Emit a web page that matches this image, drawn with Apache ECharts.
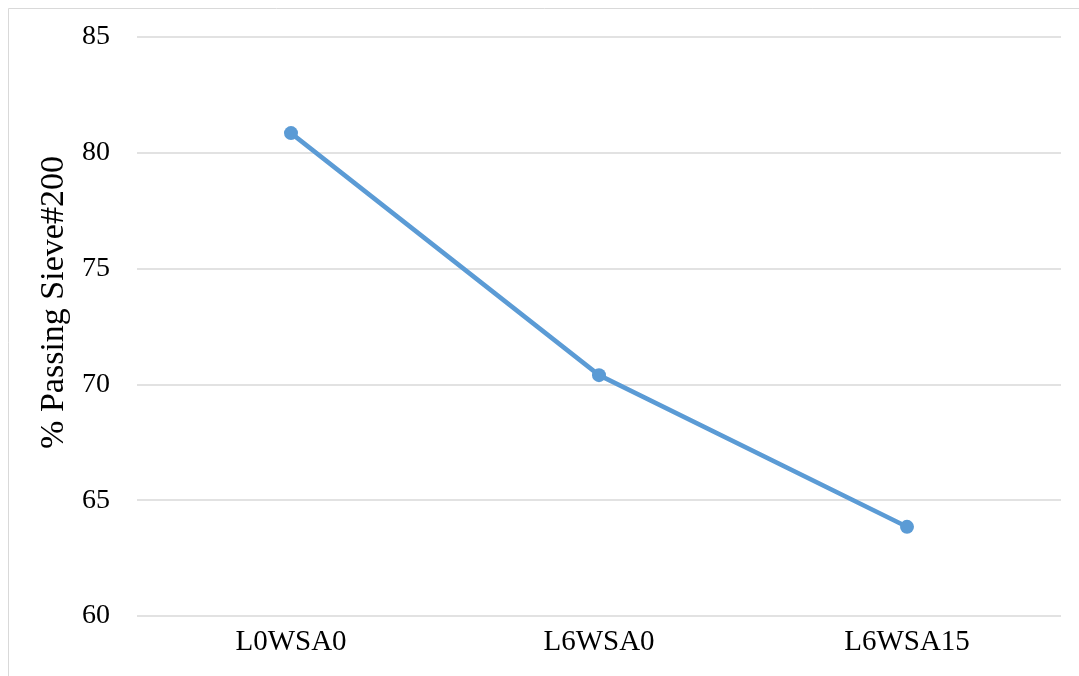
<!DOCTYPE html>
<html>
<head>
<meta charset="utf-8">
<style>
  html, body { margin: 0; padding: 0; background: #ffffff; }
  #chart { width: 1079px; height: 676px; }
</style>
<script src="https://cdn.jsdelivr.net/npm/echarts@6/dist/echarts.min.js"></script>
</head>
<body>
<div id="chart"></div>
<script>
// Mix designations and percentage passing the #200 sieve
const categories = ['L0WSA0', 'L6WSA0', 'L6WSA15'];
const passingValues = [80.85, 70.4, 63.85];
const yTicks = { min: 60, max: 85, interval: 5 };

const chart = echarts.init(document.getElementById('chart'));
const serif = '"Liberation Serif", "DejaVu Serif", serif';

chart.setOption({
  animation: false,
  backgroundColor: '#ffffff',
  graphic: [{
    type: 'rect',
    shape: { x: 8.5, y: 8.5, width: 1200, height: 800 },
    style: { fill: 'none', stroke: '#d9d9d9', lineWidth: 1 },
    silent: true
  }],
  grid: { left: 137, right: 18, top: 37, bottom: 60 },
  xAxis: {
    type: 'category',
    data: categories,
    boundaryGap: true,
    axisLine: { show: false },
    axisTick: { show: false },
    axisLabel: { color: '#000000', fontFamily: serif, fontSize: 29, margin: 12 }
  },
  yAxis: {
    type: 'value',
    min: yTicks.min,
    max: yTicks.max,
    interval: yTicks.interval,
    name: '% Passing Sieve#200',
    nameLocation: 'middle',
    nameGap: 57,
    nameTextStyle: { color: '#000000', fontFamily: serif, fontSize: 34, padding: [0, 0, 0, 48] },
    axisLine: { show: false },
    axisTick: { show: false },
    axisLabel: { color: '#000000', fontFamily: serif, fontSize: 28, margin: 27 },
    splitLine: { lineStyle: { color: '#d9d9d9', width: 1.5 } }
  },
  series: [{
    type: 'line',
    data: passingValues,
    symbol: 'circle',
    symbolSize: 14,
    itemStyle: { color: '#5b9bd5' },
    lineStyle: { color: '#5b9bd5', width: 4.5 }
  }]
});
</script>
</body>
</html>
